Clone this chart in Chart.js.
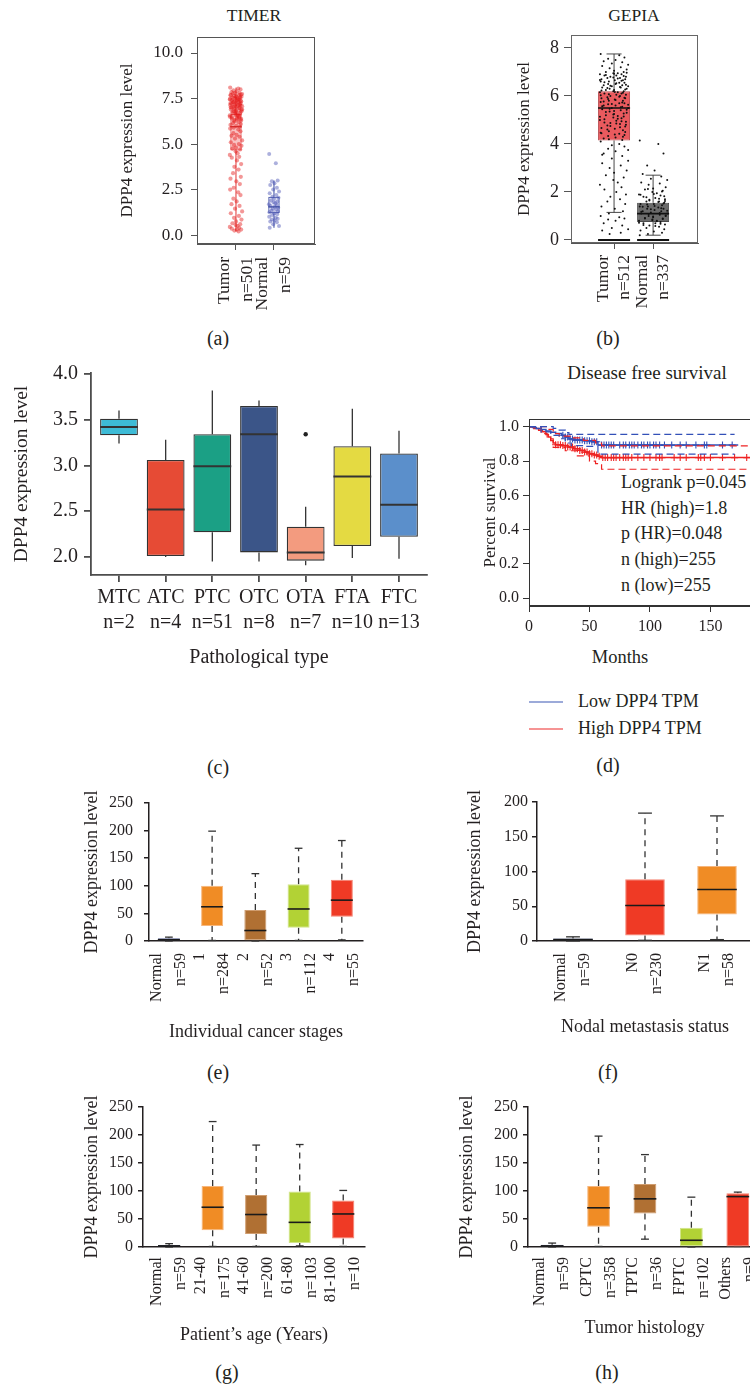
<!DOCTYPE html>
<html>
<head>
<meta charset="utf-8">
<title>DPP4 expression</title>
<script src="https://cdn.jsdelivr.net/npm/chart.js@4.4.1/dist/chart.umd.min.js"></script>
<style>
  html, body { margin: 0; padding: 0; overflow: hidden; background: #fff; }
  body { position: relative; width: 750px; height: 1384px; font-family: "Liberation Serif", serif; color: #231f20; }
  canvas { position: absolute; }
  .c { position: absolute; white-space: nowrap; transform: translate(-50%, -50%); font-size: 20px; }
  .stats { position: absolute; white-space: nowrap; font-size: 18px; line-height: 25.7px; }
  .key { position: absolute; white-space: nowrap; font-size: 18px; transform: translateY(-50%); }
  .key i { position: absolute; left: -49px; top: 50%; width: 34px; height: 0; border-top: 1.5px solid; }
</style>
</head>
<body>
<div class="c" style="left:254px;top:15px;font-size:17.5px">TIMER</div>
<div class="c" style="left:634px;top:15px;font-size:17.5px">GEPIA</div>
<div class="c" style="left:647px;top:373px;font-size:19px">Disease free survival</div>
<div class="c" style="left:620px;top:657px;font-size:18.5px">Months</div>
<div class="stats" style="left:621px;top:470px">Logrank p=0.045<br>HR (high)=1.8<br>p (HR)=0.048<br>n (high)=255<br>n (low)=255</div>
<div class="key" style="left:578px;top:701px"><i style="border-color:#3b56b4"></i>Low DPP4 TPM</div>
<div class="key" style="left:578px;top:728px"><i style="border-color:#ee2a2a"></i>High DPP4 TPM</div>
<div class="c" style="left:218px;top:338px">(a)</div>
<div class="c" style="left:608px;top:338px">(b)</div>
<div class="c" style="left:218px;top:767px">(c)</div>
<div class="c" style="left:608px;top:765px">(d)</div>
<div class="c" style="left:218px;top:1072px">(e)</div>
<div class="c" style="left:608px;top:1072px">(f)</div>
<div class="c" style="left:227px;top:1372px">(g)</div>
<div class="c" style="left:607px;top:1372px">(h)</div>

<canvas id="pa"></canvas>
<canvas id="pb"></canvas>
<canvas id="pc"></canvas>
<canvas id="pd"></canvas>
<canvas id="pe"></canvas>
<canvas id="pf"></canvas>
<canvas id="pg"></canvas>
<canvas id="ph"></canvas>

<script>
// ---------- (a) TIMER ----------
const timerLabels = [['Tumor', 'n=501'], ['Normal', 'n=59']];
const timerPos = [1, 2];
const timerQ1 = [4.65, 1.2];
const timerMed = [5.95, 1.55];
const timerQ3 = [6.65, 2.1];
const timerLo = [0.2, 0.4];
const timerHi = [8.1, 3.0];
const timerYTicks = [0, 2.5, 5, 7.5, 10];
const timerYLabels = ['0.0', '2.5', '5.0', '7.5', '10.0'];
const timerTumorPts = [8.1,8.05,8.0,7.95,7.9,7.85,7.8,7.8,7.75,7.7,7.7,7.65,7.6,7.6,7.55,7.55,7.5,7.5,7.45,7.45,7.4,7.4,7.35,7.35,7.3,7.3,7.25,7.25,7.2,7.2,7.15,7.15,7.1,7.1,7.05,7.05,7.0,7.0,6.95,6.9,6.9,6.85,6.8,6.8,6.75,6.7,6.65,6.6,6.55,6.5,6.45,6.4,6.35,6.3,6.25,6.2,6.15,6.1,6.05,6.0,5.95,5.9,5.85,5.8,5.7,5.6,5.5,5.45,5.4,5.3,5.2,5.1,5.0,4.95,4.9,4.8,4.75,4.7,4.6,4.5,4.4,4.3,4.25,4.1,3.9,3.75,3.6,3.4,3.2,3.1,2.95,2.8,2.6,2.5,2.35,2.2,2.0,1.85,1.7,1.6,1.45,1.3,1.2,1.05,0.95,0.85,0.75,0.65,0.6,0.55,0.5,0.45,0.4,0.35,0.3,0.3,0.25,0.2,
  7.78,7.72,7.68,7.62,7.58,7.52,7.48,7.42,7.38,7.32,7.28,7.22,7.18,7.12,7.08,7.02,6.98,6.92,6.88,6.82,6.78,6.72,6.68,6.62,6.58,6.52,6.48,6.42,6.38,6.32];
const timerNormalPts = [4.45,3.95,3.0,2.95,2.85,2.75,2.6,2.5,2.4,2.3,2.2,2.1,2.05,2.0,1.9,1.85,1.8,1.75,1.7,1.65,1.6,1.55,1.5,1.45,1.4,1.35,1.3,1.25,1.2,1.15,1.1,1.0,0.95,0.9,0.85,0.8,0.75,0.7,0.6,0.5,0.4];

// ---------- (b) GEPIA ----------
const gepiaLabels = [['Tumor', 'n=512'], ['Normal', 'n=337']];
const gepiaPos = [1, 2];
const gepiaQ1 = [4.15, 0.75];
const gepiaMed = [5.5, 1.1];
const gepiaQ3 = [6.2, 1.55];
const gepiaLo = [1.15, 0.2];
const gepiaHi = [7.75, 2.7];
const gepiaZero = [0, 0];
const gepiaYTicks = [0, 2, 4, 6, 8];
const gepiaYLabels = ['0', '2', '4', '6', '8'];
const gepiaTumorPts = [7.75,7.7,7.6,7.55,7.5,7.45,7.4,7.35,7.3,7.25,7.2,7.15,7.1,7.05,7.0,7.0,6.95,6.95,6.9,6.9,6.85,6.85,6.8,6.8,6.75,6.75,6.7,6.7,6.65,6.65,6.6,6.6,6.55,6.55,6.5,6.5,6.45,6.45,6.4,6.4,6.35,6.35,6.3,6.3,6.25,6.25,6.2,6.2,6.15,6.15,6.1,6.1,6.05,6.05,6.0,6.0,5.95,5.9,5.9,5.85,5.8,5.8,5.75,5.7,5.7,5.65,5.6,5.6,5.55,5.5,5.5,5.45,5.4,5.35,5.3,5.25,5.2,5.15,5.1,5.05,5.0,4.95,4.9,4.85,4.8,4.75,4.7,4.6,4.5,4.45,4.4,4.3,4.2,4.1,4.0,3.9,3.8,3.7,3.6,3.5,3.4,3.3,3.2,3.1,3.0,2.9,2.8,2.7,2.6,2.5,2.4,2.3,2.2,2.1,2.0,1.9,1.8,1.7,1.6,1.5,1.4,1.3,1.2,1.1,1.0,0.95,0.9,0.85,0.8,0.7,0.6,0.5,0.45,0.4,0.3,0.25,
  6.97,6.93,6.87,6.83,6.77,6.73,6.67,6.63,6.57,6.53,6.47,6.43,6.37,6.33,6.27,6.23,6.17,6.13,6.07,6.03,5.97,5.93,5.87,5.83,5.77,5.73,5.67,5.63,5.57,5.53,5.47,5.43,5.37,5.33,5.27,5.23,5.17,5.13,5.07,5.03,4.97,4.93,4.87,4.83,4.77,4.73,4.67,4.63,4.57,4.53,4.47,4.43,4.37,4.33,4.27,4.23,4.17,3.95,3.75,3.55];
const gepiaNormalPts = [4.15,4.0,3.6,3.1,2.9,2.75,2.65,2.55,2.5,2.4,2.35,2.3,2.2,2.15,2.1,2.05,2.0,1.95,1.9,1.85,1.8,1.75,1.7,1.65,1.6,1.6,1.55,1.5,1.5,1.45,1.4,1.4,1.35,1.3,1.3,1.25,1.2,1.2,1.15,1.1,1.1,1.05,1.0,1.0,0.95,0.9,0.9,0.85,0.8,0.8,0.75,0.7,0.7,0.65,0.6,0.55,0.5,0.45,0.4,0.35,0.3,0.25,0.2,
  1.58,1.52,1.48,1.42,1.38,1.32,1.28,1.22,1.18,1.12,1.08,1.02,0.98,0.92,0.88,0.82,0.78,0.72,0.68,0.62,0.58,1.62,1.68,1.72,1.78,1.82,1.88,1.92,2.02,2.12];

// horizontal scatter of the dots, as fractions of the spread
const jitter = [-0.9,0.35,0.7,-0.4,0.1,-0.7,0.55,-0.15,0.95,-0.8,0.45,-0.3,0.85,0.0,-0.55,0.65,-0.05,0.25,-0.95,0.5,-0.65,0.15,0.8,-0.25,0.4,-0.45,0.75,-0.85,0.05,0.6,-0.35];

// ---------- (c) pathological type ----------
const cLabels = [['MTC','n=2'],['ATC','n=4'],['PTC','n=51'],['OTC','n=8'],['OTA','n=7'],['FTA','n=10'],['FTC','n=13']];
const cPos = [0, 1, 2, 3, 4, 5, 6];
const cQ1 = [3.33, 2.01, 2.27, 2.05, 1.96, 2.12, 2.22];
const cMed = [3.42, 2.52, 2.99, 3.34, 2.05, 2.88, 2.57];
const cQ3 = [3.51, 3.06, 3.34, 3.65, 2.33, 3.21, 3.13];
const cLo = [3.24, 2.0, 1.95, 1.95, 1.91, 1.99, 1.98];
const cHi = [3.60, 3.28, 3.82, 3.71, 2.55, 3.62, 3.38];
const cOutX = [4];
const cOutY = [3.34];
const cYTicks = [2, 2.5, 3, 3.5, 4];
const cYLabels = ['2.0', '2.5', '3.0', '3.5', '4.0'];

// ---------- (d) disease free survival ----------
const lowT = [0,3,6,10,14,18,22,27,30,33,37,45,52,57,173];
const lowS = [1,0.996,0.99,0.984,0.975,0.968,0.96,0.95,0.94,0.928,0.922,0.918,0.912,0.893,0.893];
const highT = [0,4,8,11,14,16,18,20,22,27,32,37,42,46,50,54,57,60,195];
const highS = [1,0.99,0.98,0.97,0.955,0.94,0.92,0.905,0.895,0.89,0.882,0.872,0.862,0.852,0.842,0.835,0.828,0.82,0.82];
const lowUpT = [0,10,20,25,30,33,170];
const lowUpS = [1,1,0.99,0.98,0.965,0.955,0.955];
const lowDnT = [0,10,18,25,30,35,45,57,170];
const lowDnS = [1,0.97,0.95,0.93,0.905,0.89,0.885,0.84,0.84];
const highUpT = [0,10,15,20,25,35,45,55,60,195];
const highUpS = [1,1,0.985,0.96,0.945,0.935,0.92,0.905,0.888,0.888];
const highDnT = [0,10,15,20,30,40,50,55,60,195];
const highDnS = [1,0.96,0.93,0.88,0.86,0.83,0.8,0.785,0.752,0.752];
const lowCensor = [28,30,32,34,36,38,40,42,44,46,48,50,52,54,56,60,62,64,66,68,70,75,78,80,83,85,87,90,93,95,98,100,103,105,108,112,118,125,130,138,145,147,160,168];
const highCensor = [22,24,26,28,30,32,34,36,38,40,42,44,46,48,50,52,54,56,58,61,63,65,68,70,72,75,78,80,82,85,90,95,100,105,108,110,120,125,130,140,142,145,150,160,170,180];
const dXTicks = [0, 50, 100, 150];
const dXLabels = ['0', '50', '100', '150'];
const dYTicks = [0, 0.2, 0.4, 0.6, 0.8, 1.0];
const dYLabels = ['0.0', '0.2', '0.4', '0.6', '0.8', '1.0'];

// ---------- (e) cancer stages ----------
const eLabels = [['Normal','n=59'],['1','n=284'],['2','n=52'],['3','n=112'],['4','n=55']];
const ePos = [0, 1, 2, 3, 4];
const eQ1 = [0, 27, 0, 24, 44];
const eMed = [2.5, 62, 19, 58, 74];
const eQ3 = [5, 100, 56, 103, 111];
const eLo = [0, 1, 0, 1, 2];
const eHi = [7, 199, 122, 168, 182];

// ---------- (f) nodal metastasis ----------
const fLabels = [['Normal','n=59'],['N0','n=230'],['N1','n=58']];
const fPos = [0, 1, 2];
const fQ1 = [0, 8, 38];
const fMed = [2, 51, 74];
const fQ3 = [3.5, 89, 108];
const fLo = [0, 1, 2];
const fHi = [6, 184, 180];

// ---------- (g) age ----------
const gLabels = [['Normal','n=59'],['21-40','n=175'],['41-60','n=200'],['61-80','n=103'],['81-100','n=10']];
const gPos = [0, 1, 2, 3, 4];
const gQ1 = [0, 30, 23, 7, 15];
const gMed = [2, 71, 58, 44, 59];
const gQ3 = [3.5, 109, 93, 99, 83];
const gLo = [0, 1, 1, 2, 1];
const gHi = [6, 224, 182, 183, 101];

// ---------- (h) histology ----------
const hLabels = [['Normal','n=59'],['CPTC','n=358'],['TPTC','n=36'],['FPTC','n=102'],['Others','n=9']];
const hPos = [0, 1, 2, 3, 4];
const hQ1 = [0, 36, 60, 0, 1];
const hMed = [2, 70, 86, 12, 90];
const hQ3 = [4, 109, 112.5, 34.5, 96];
const hLo = [0, 1, 14, 0, 1];
const hHi = [7, 198, 165, 89, 98];

const t250 = [0, 50, 100, 150, 200, 250];
const t200 = [0, 50, 100, 150, 200];

// ---------- helpers ----------
const serif = '"Liberation Serif", "Times New Roman", serif';
const ink = '#231f20';
const cNavy = '#3d4ea3', cOrange = '#f08c25', cBrown = '#b07033', cLime = '#b2d235', cRed = '#ef3a25';
const eNavy = '#8390cc', eOrange = '#f7b67c', eBrown = '#cf9d70', eLime = '#d2e48a', eRed = '#f58372';

function place(id, area, m) {
  const c = document.getElementById(id);
  c.width = area[2] - area[0] + m.l + m.r;
  c.height = area[3] - area[1] + m.t + m.b;
  c.style.left = (area[0] - m.l) + 'px';
  c.style.top = (area[1] - m.t) + 'px';
  return c;
}
function boxData(pos, q1, q3) { return pos.map((p, i) => ({x: p, y: [q1[i], q3[i]]})); }
function dots(vals, pos, spread) { return vals.map((v, i) => ({x: pos + jitter[i % jitter.length] * spread, y: v})); }
function pick(v, i) { return Array.isArray(v) ? v[i] : v; }
function seg(ctx, x1, y1, x2, y2) { ctx.beginPath(); ctx.moveTo(x1, y1); ctx.lineTo(x2, y2); ctx.stroke(); }
function stepAt(t, s, x) { let v = s[0]; t.forEach((tt, i) => { if (tt <= x) v = s[i]; }); return v; }
function noPad(s) { s.paddingLeft = s.paddingRight = s.paddingTop = s.paddingBottom = 0; }

function xScale(o) {
  const lh = o.lh || 1.2;
  return {
    type: 'linear', bounds: 'data', min: o.min, max: o.max, offset: false,
    afterBuildTicks: s => { s.ticks = o.at.map(v => ({value: v})); },
    afterFit: s => { s.height = o.size; noPad(s); },
    border: {display: true, color: o.line || ink, width: o.lw || 1},
    grid: {display: (o.tick || 0) > 0, offset: false, drawOnChartArea: false, drawTicks: (o.tick || 0) > 0, tickLength: o.tick || 0, color: o.line || ink, lineWidth: o.lw || 1},
    ticks: {autoSkip: false, maxRotation: o.rot || 0, minRotation: o.rot || 0, padding: o.pad, color: ink,
      labelOffset: o.rot ? -o.fs * lh / 2 : 0,
      font: {family: serif, size: o.fs, lineHeight: lh}, callback: (v, i) => o.labels[i]},
    title: o.title ? {display: true, text: o.title, color: ink, font: {family: serif, size: o.tfs, lineHeight: 1.2}, padding: {top: 0, bottom: o.tpad}} : {display: false}
  };
}
function yScale(o) {
  return {
    type: 'linear', bounds: 'data', min: o.min, max: o.max, beginAtZero: false,
    afterBuildTicks: s => { s.ticks = o.at.map(v => ({value: v})); },
    afterFit: s => { s.width = o.size; noPad(s); },
    border: {display: true, color: o.line || ink, width: o.lw || 1},
    grid: {display: true, drawOnChartArea: false, drawTicks: true, tickLength: o.tick, color: o.line || ink, lineWidth: o.lw || 1},
    ticks: {autoSkip: false, padding: o.pad, color: ink, font: {family: serif, size: o.fs}, callback: (v, i) => o.labels[i]},
    title: {display: true, text: o.title || 'DPP4 expression level', color: ink, font: {family: serif, size: o.tfs, lineHeight: 1.2}, padding: {top: o.tpad, bottom: 0}}
  };
}
function opts(m, x, y, extra) {
  return {
    responsive: false, animation: false, devicePixelRatio: 1,
    layout: {padding: {top: m.t, right: m.r, bottom: 0, left: 0}},
    plugins: Object.assign({legend: {display: false}, tooltip: {enabled: false}}, extra || {}),
    scales: {x: x, y: y}
  };
}

// whiskers, caps, medians drawn from the box stats through the chart scales
function drawBoxParts(chart, phase) {
  const ctx = chart.ctx, ys = chart.scales.y;
  chart.data.datasets.forEach((ds, di) => {
    const st = ds.stats;
    if (!st) return;
    chart.getDatasetMeta(di).data.forEach((bar, i) => {
      const x = bar.x, hw = bar.width / 2;
      const yq1 = ys.getPixelForValue(ds.data[i].y[0]);
      const yq3 = ys.getPixelForValue(ds.data[i].y[1]);
      ctx.save();
      if (phase === 'whisker') {
        const ylo = ys.getPixelForValue(st.lo[i]), yhi = ys.getPixelForValue(st.hi[i]);
        ctx.strokeStyle = pick(st.wColor, i);
        ctx.lineWidth = st.wWidth;
        ctx.setLineDash(st.dash || []);
        seg(ctx, x, yq3, x, yhi);
        seg(ctx, x, yq1, x, ylo);
        ctx.setLineDash([]);
        if (st.cap) {
          const cw = hw * st.cap;
          seg(ctx, x - cw, yhi, x + cw, yhi);
          seg(ctx, x - cw, ylo, x + cw, ylo);
        }
      } else {
        ctx.strokeStyle = pick(st.mColor, i);
        ctx.lineWidth = st.mWidth;
        const ym = ys.getPixelForValue(st.med[i]);
        seg(ctx, x - hw, ym, x + hw, ym);
        if (st.zero) {
          ctx.lineWidth = 2;
          ctx.strokeStyle = '#111';
          const y0 = ys.getPixelForValue(st.zero[i]);
          seg(ctx, x - hw, y0, x + hw, y0);
        }
      }
      ctx.restore();
    });
  });
}
const boxParts = {
  id: 'boxParts',
  beforeDatasetsDraw(chart) { drawBoxParts(chart, 'whisker'); },
  afterDatasetsDraw(chart) { drawBoxParts(chart, 'median'); }
};
const framePlugin = {
  id: 'frame',
  afterDatasetsDraw(chart, args, o) {
    const a = chart.chartArea, ctx = chart.ctx;
    ctx.save();
    ctx.strokeStyle = o.color || '#555';
    ctx.lineWidth = o.width || 1;
    ctx.strokeRect(a.left + 0.5, a.top + 0.5, a.right - a.left - 1, a.bottom - a.top - 1);
    ctx.restore();
  }
};

function boxChart(id, area, m, d) {
  const datasets = [{
    type: 'bar', data: boxData(d.pos, d.q1, d.q3), order: 5,
    backgroundColor: d.fill, borderColor: d.edge, borderWidth: d.edgeW, borderSkipped: false,
    barPercentage: d.width, categoryPercentage: 1,
    stats: {med: d.med, lo: d.lo, hi: d.hi, wColor: d.wColor, wWidth: d.wWidth, dash: d.dash, cap: d.cap, mColor: d.mColor, mWidth: d.mWidth, zero: d.zero}
  }].concat(d.extra || []);
  return new Chart(place(id, area, m), {
    type: 'bar', data: {datasets: datasets},
    options: opts(m, d.x, d.y, d.pluginOpts),
    plugins: [boxParts].concat(d.plugins || [])
  });
}

// ---------- (a) ----------
const mA = {l: 97, t: 37, r: 15, b: 85};
boxChart('pa', [197, 37, 315, 244], mA, {
  pos: timerPos, q1: timerQ1, q3: timerQ3, med: timerMed, lo: timerLo, hi: timerHi,
  fill: ['rgba(238,80,80,0.35)', 'rgba(90,100,200,0.12)'], edge: ['rgba(220,40,40,0.75)', '#3848a0'], edgeW: 1, width: 0.3,
  wColor: ['rgba(220,30,30,0.9)', '#3848a0'], wWidth: 1, cap: 0, mColor: ['#d42020', '#3848a0'], mWidth: 1.2,
  extra: [
    {type: 'scatter', data: dots(timerTumorPts, 1, 0.17), pointRadius: 2.1, backgroundColor: 'rgba(228,25,25,0.45)', borderWidth: 0, order: 1},
    {type: 'scatter', data: dots(timerNormalPts, 2, 0.14), pointRadius: 2, backgroundColor: 'rgba(70,80,180,0.45)', borderWidth: 0, order: 1}
  ],
  plugins: [framePlugin], pluginOpts: {frame: {color: '#555', width: 1}},
  x: xScale({min: -0.026, max: 3.08, at: timerPos, labels: timerLabels, size: mA.b, rot: 90, tick: 6, pad: 7, fs: 17.5, lh: 1.3, line: '#555'}),
  y: yScale({min: -0.49, max: 10.88, at: timerYTicks, labels: timerYLabels, size: mA.l, tick: 6, pad: 8, fs: 17, tfs: 17, tpad: 17.8, line: '#555'})
});

// ---------- (b) ----------
const mB = {l: 91, t: 35, r: 30, b: 90};
boxChart('pb', [571, 35, 698, 243], mB, {
  pos: gepiaPos, q1: gepiaQ1, q3: gepiaQ3, med: gepiaMed, lo: gepiaLo, hi: gepiaHi, zero: gepiaZero,
  fill: ['#ea5a5e', '#6b6b6b'], edge: ['#b8474b', '#4a4a4a'], edgeW: 1, width: 0.82,
  wColor: '#333', wWidth: 0.9, cap: 0.47, mColor: '#111', mWidth: 1.6,
  extra: [
    {type: 'scatter', data: dots(gepiaTumorPts, 1, 0.38), pointRadius: 1, backgroundColor: '#111', borderWidth: 0, order: 1},
    {type: 'scatter', data: dots(gepiaNormalPts, 2, 0.38), pointRadius: 1, backgroundColor: '#111', borderWidth: 0, order: 1}
  ],
  plugins: [framePlugin], pluginOpts: {frame: {color: '#666', width: 1}},
  x: xScale({min: -0.103, max: 3.15, at: gepiaPos, labels: gepiaLabels, size: mB.b, rot: 90, tick: 6, pad: 6, fs: 17.5, lh: 1.2, line: '#555'}),
  y: yScale({min: -0.125, max: 8.54, at: gepiaYTicks, labels: gepiaYLabels, size: mB.l, tick: 7, pad: 5, fs: 18, tfs: 17, tpad: 34.8, line: '#555'})
});

// ---------- (c) ----------
const mC = {l: 91, t: 33, r: 23, b: 105};
boxChart('pc', [91, 373, 427, 575], mC, {
  pos: cPos, q1: cQ1, q3: cQ3, med: cMed, lo: cLo, hi: cHi,
  fill: ['#3dbbd6', '#e64b35', '#1ba085', '#3b5588', '#f39b7f', '#e4da42', '#5b8fcb'], edge: '#333', edgeW: 1.3, width: 0.81,
  wColor: '#333', wWidth: 1.3, cap: 0, mColor: '#333', mWidth: 2,
  extra: [
    {type: 'scatter', data: cOutX.map((x, i) => ({x: x, y: cOutY[i]})), pointRadius: 2.2, backgroundColor: '#222', borderWidth: 0, order: 1}
  ],
  x: xScale({min: -0.6, max: 6.6, at: cPos, labels: cLabels, size: mC.b, rot: 0, tick: 7, pad: 3, fs: 20, lh: 1.25, line: '#4d4d4d', lw: 1.8,
    title: 'Pathological type', tfs: 20, tpad: 10}),
  y: yScale({min: 1.803, max: 4.01, at: cYTicks, labels: cYLabels, size: mC.l, tick: 7, pad: 6, fs: 20, tfs: 19.5, tpad: 10.3, line: '#4d4d4d', lw: 1.8})
});

// ---------- (d) ----------
const blue = '#3350b8', red = '#ee2222';
function kmLine(t, s, color, dash, w) {
  return {data: t.map((v, i) => ({x: v, y: s[i]})), stepped: true, borderColor: color, borderWidth: w, borderDash: dash, pointRadius: 0, fill: false};
}
function censor(times, t, s, color) {
  return {type: 'scatter', data: times.map(x => ({x: x, y: stepAt(t, s, x)})), pointStyle: 'cross', pointRadius: 3.5, borderColor: color, borderWidth: 1.1, backgroundColor: color};
}
const mD = {l: 49, t: 59, r: 10, b: 74};
new Chart(place('pd', [529, 419, 760, 606], mD), {
  type: 'line',
  data: {datasets: [
    kmLine(lowUpT, lowUpS, blue, [7, 4], 1.2),
    kmLine(lowDnT, lowDnS, blue, [7, 4], 1.2),
    kmLine(highUpT, highUpS, red, [7, 4], 1.2),
    kmLine(highDnT, highDnS, red, [7, 4], 1.2),
    kmLine(lowT, lowS, blue, [], 1.5),
    kmLine(highT, highS, red, [], 1.5),
    censor(lowCensor, lowT, lowS, blue),
    censor(highCensor, highT, highS, red)
  ]},
  options: opts(mD,
    xScale({min: 0, max: 191, at: dXTicks, labels: dXLabels, size: mD.b, rot: 0, tick: 6, pad: 5, fs: 16, line: '#333'}),
    yScale({min: -0.045, max: 1.045, at: dYTicks, labels: dYLabels, size: mD.l, tick: 6, pad: 4, fs: 16, tfs: 17, tpad: 0.8, line: '#333', title: 'Percent survival'}),
    {frame: {color: '#333', width: 1}}),
  plugins: [framePlugin]
});

// ---------- (e)-(h) ----------
const whiskerStyle = {wColor: '#333', wWidth: 1.3, dash: [6, 5], cap: 0.35, mColor: '#1a1a1a', mWidth: 1.6, edgeW: 1};

const mE = {l: 79, t: 18, r: 17, b: 109};
boxChart('pe', [149, 803, 363, 941], mE, Object.assign({
  pos: ePos, q1: eQ1, q3: eQ3, med: eMed, lo: eLo, hi: eHi, width: 0.51,
  fill: [cNavy, cOrange, cBrown, cLime, cRed], edge: [eNavy, eOrange, eBrown, eLime, eRed],
  x: xScale({min: -0.46, max: 4.49, at: ePos, labels: eLabels, size: mE.b, rot: 90, tick: 0, pad: 12, fs: 16, lh: 1.5, lw: 1.5,
    title: 'Individual cancer stages', tfs: 18, tpad: 7.2}),
  y: yScale({min: 0, max: 250, at: t250, labels: t250.map(String), size: mE.l, tick: 5, pad: 11, fs: 16, tfs: 18, tpad: 11.2, lw: 1.5})
}, whiskerStyle));

const mF = {l: 77, t: 17, r: 17, b: 109};
boxChart('pf', [537, 802, 753, 941], mF, Object.assign({
  pos: fPos, q1: fQ1, q3: fQ3, med: fMed, lo: fLo, hi: fHi, width: 0.55,
  fill: [cNavy, cRed, cOrange], edge: [eNavy, eRed, eOrange],
  x: xScale({min: -0.5, max: 2.5, at: fPos, labels: fLabels, size: mF.b, rot: 90, tick: 0, pad: 12, fs: 16, lh: 1.5, lw: 1.5,
    title: 'Nodal metastasis status', tfs: 18, tpad: 12.2}),
  y: yScale({min: 0, max: 200, at: t200, labels: t200.map(String), size: mF.l, tick: 5, pad: 4, fs: 16, tfs: 18, tpad: 4.2, lw: 1.5})
}, whiskerStyle));

const mG = {l: 73, t: 17, r: 15, b: 103};
boxChart('pg', [143, 1107, 365, 1247], mG, Object.assign({
  pos: gPos, q1: gQ1, q3: gQ3, med: gMed, lo: gLo, hi: gHi, width: 0.51,
  fill: [cNavy, cOrange, cBrown, cLime, cRed], edge: [eNavy, eOrange, eBrown, eLime, eRed],
  x: xScale({min: -0.6, max: 4.5, at: gPos, labels: gLabels, size: mG.b, rot: 90, tick: 0, pad: 10, fs: 16, lh: 1.5, lw: 1.5,
    title: 'Patient\u2019s age (Years)', tfs: 18, tpad: 4.2}),
  y: yScale({min: 0, max: 250, at: t250, labels: t250.map(String), size: mG.l, tick: 5, pad: 5, fs: 16, tfs: 18, tpad: 11.2, lw: 1.5})
}, whiskerStyle));

const mH = {l: 73, t: 17, r: 14, b: 103};
boxChart('ph', [528, 1107, 761, 1247], mH, Object.assign({
  pos: hPos, q1: hQ1, q3: hQ3, med: hMed, lo: hLo, hi: hHi, width: 0.49,
  fill: [cNavy, cOrange, cBrown, cLime, cRed], edge: [eNavy, eOrange, eBrown, eLime, eRed],
  x: xScale({min: -0.52, max: 4.5, at: hPos, labels: hLabels, size: mH.b, rot: 90, tick: 0, pad: 10, fs: 16, lh: 1.5, lw: 1.5,
    title: 'Tumor histology', tfs: 18, tpad: 11.2}),
  y: yScale({min: 0, max: 250, at: t250, labels: t250.map(String), size: mH.l, tick: 5, pad: 5, fs: 16, tfs: 18, tpad: 1.2, lw: 1.5})
}, whiskerStyle));
</script>
</body>
</html>
